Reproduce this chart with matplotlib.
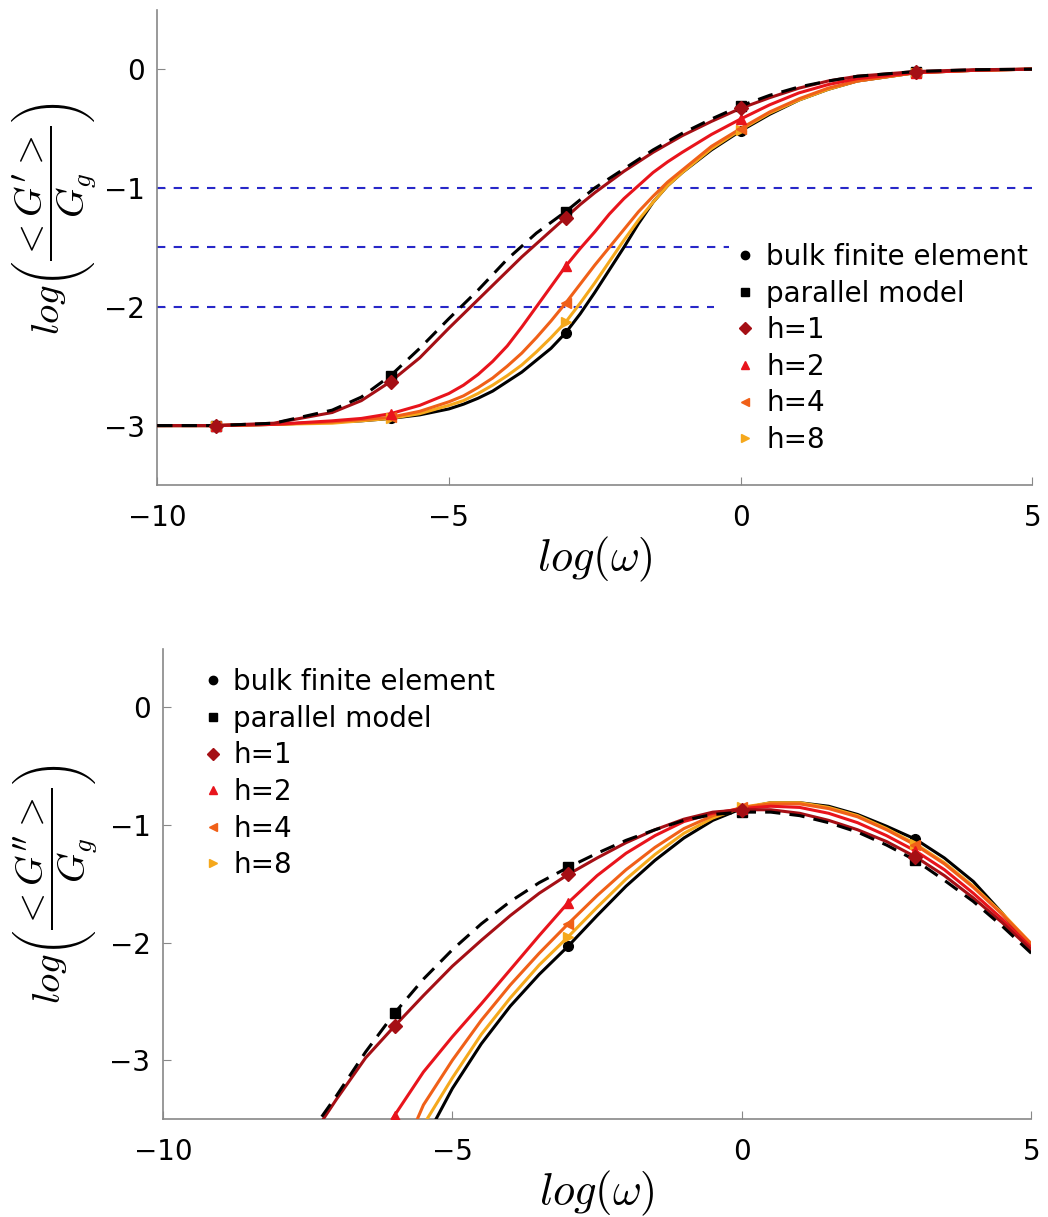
import matplotlib
matplotlib.use('Agg')
import matplotlib.pyplot as plt
from matplotlib.lines import Line2D
import numpy as np

plt.rcParams['mathtext.fontset'] = 'cm'
plt.rcParams['font.family'] = ['DejaVu Sans']

# --- storage modulus panel
x_top = [-10, -9, -8, -7, -6.5, -6, -5.5, -5, -4.75, -4.5, -4.25, -4, -3.75, -3.5, -3.25, -3,
         -2.75, -2.5, -2.25, -2, -1.75, -1.5, -1.25, -1, -0.5, 0, 0.5, 1, 1.5, 2, 3, 4, 5]
gp_bulk = [-3, -3, -2.99, -2.97, -2.96, -2.94, -2.91, -2.86, -2.82, -2.77, -2.71, -2.63, -2.55,
           -2.45, -2.35, -2.22, -2.06, -1.88, -1.69, -1.50, -1.30, -1.12, -0.98, -0.87, -0.68,
           -0.52, -0.38, -0.26, -0.17, -0.10, -0.03, -0.01, 0]
gp_par = [-3, -3, -2.98, -2.87, -2.76, -2.58, -2.35, -2.10, -1.98, -1.86, -1.73, -1.60, -1.49,
          -1.38, -1.29, -1.20, -1.10, -1.00, -0.92, -0.84, -0.76, -0.68, -0.61, -0.54, -0.42,
          -0.31, -0.22, -0.15, -0.10, -0.06, -0.02, -0.005, 0]
gp_h1 = [-3, -3, -2.98, -2.89, -2.79, -2.63, -2.43, -2.18, -2.06, -1.94, -1.82, -1.70, -1.58,
         -1.47, -1.36, -1.25, -1.14, -1.04, -0.95, -0.86, -0.78, -0.70, -0.63, -0.56, -0.44,
         -0.33, -0.24, -0.16, -0.10, -0.06, -0.02, -0.005, 0]
gp_h2 = [-3, -3, -2.99, -2.96, -2.94, -2.90, -2.83, -2.73, -2.66, -2.57, -2.46, -2.33, -2.17,
         -2.00, -1.83, -1.66, -1.51, -1.37, -1.22, -1.09, -0.98, -0.87, -0.78, -0.70, -0.55,
         -0.42, -0.30, -0.20, -0.13, -0.08, -0.03, -0.01, 0]
gp_h4 = [-3, -3, -2.99, -2.97, -2.95, -2.93, -2.88, -2.80, -2.75, -2.68, -2.60, -2.50, -2.39,
         -2.26, -2.12, -1.97, -1.81, -1.65, -1.50, -1.35, -1.20, -1.07, -0.95, -0.85, -0.65,
         -0.50, -0.36, -0.25, -0.16, -0.10, -0.03, -0.01, 0]
gp_h8 = [-3, -3, -2.99, -2.98, -2.96, -2.94, -2.90, -2.83, -2.79, -2.73, -2.66, -2.58, -2.49,
         -2.38, -2.26, -2.13, -1.97, -1.80, -1.62, -1.44, -1.27, -1.12, -0.98, -0.87, -0.67,
         -0.51, -0.37, -0.26, -0.17, -0.10, -0.03, -0.01, 0]

# --- loss modulus panel
x_bot = [-7.5, -7, -6.5, -6, -5.5, -5, -4.5, -4, -3.5, -3, -2.5, -2, -1.5, -1, -0.5,
         0, 0.5, 1, 1.5, 2, 2.5, 3, 3.5, 4, 4.5, 5]
gpp_bulk = [-6.0, -5.4, -4.8, -4.2, -3.7, -3.24, -2.86, -2.54, -2.27, -2.03, -1.77, -1.52, -1.30,
            -1.11, -0.96, -0.86, -0.81, -0.81, -0.84, -0.91, -1.01, -1.12, -1.28, -1.48, -1.75, -2.06]
gpp_par = [-3.65, -3.30, -2.93, -2.60, -2.31, -2.06, -1.84, -1.65, -1.49, -1.36, -1.24, -1.13, -1.04,
           -0.96, -0.91, -0.89, -0.89, -0.92, -0.98, -1.06, -1.17, -1.30, -1.47, -1.65, -1.86, -2.09]
gpp_h1 = [-3.70, -3.33, -2.98, -2.71, -2.45, -2.20, -1.98, -1.77, -1.58, -1.42, -1.28, -1.15, -1.04,
          -0.95, -0.89, -0.87, -0.87, -0.90, -0.96, -1.04, -1.14, -1.27, -1.43, -1.62, -1.83, -2.06]
gpp_h2 = [-4.6, -4.2, -3.85, -3.47, -3.10, -2.80, -2.52, -2.23, -1.94, -1.66, -1.43, -1.24, -1.09,
          -0.97, -0.90, -0.86, -0.84, -0.85, -0.90, -0.98, -1.09, -1.22, -1.38, -1.58, -1.80, -2.04]
gpp_h4 = [-5.4, -4.9, -4.4, -3.95, -3.38, -3.00, -2.66, -2.36, -2.09, -1.84, -1.60, -1.38, -1.19,
          -1.03, -0.92, -0.85, -0.82, -0.82, -0.86, -0.93, -1.04, -1.17, -1.33, -1.53, -1.76, -2.01]
gpp_h8 = [-5.7, -5.1, -4.6, -4.1, -3.55, -3.15, -2.78, -2.47, -2.19, -1.95, -1.70, -1.46, -1.25,
          -1.07, -0.94, -0.85, -0.81, -0.81, -0.85, -0.92, -1.03, -1.16, -1.32, -1.52, -1.75, -2.01]

marker_x = [-9, -6, -3, 0, 3]
hlines = [-1, -1.5, -2]
hline_end = [5, -0.2, -0.45]

labels = ['bulk finite element', 'parallel model', 'h=1', 'h=2', 'h=4', 'h=8']
colors = ['black', 'black', '#a50f15', '#e8141c', '#f06018', '#f5a81c']
markers = ['o', 's', 'D', '^', '<', '>']
styles = ['-', '--', '-', '-', '-', '-']

fig = plt.figure(figsize=(10.48, 12.17), dpi=100)
ax1 = fig.add_axes([0.150, 0.6015, 0.835, 0.3905])
ax2 = fig.add_axes([0.1555, 0.0805, 0.8285, 0.3865])


def draw(ax, xs, series):
    xs = np.array(xs)
    order = [1, 0, 5, 4, 3, 2]
    for i in order:
        ys = np.array(series[i])
        ax.plot(xs, ys, styles[i], color=colors[i], lw=2.2, zorder=3 + (i == 1),
                dashes=(5, 3) if i == 1 else (None, None))
        mask = np.isin(xs, marker_x)
        ax.plot(xs[mask], ys[mask], linestyle='none', marker=markers[i], color=colors[i],
                ms=7, zorder=5)


draw(ax1, x_top, [gp_bulk, gp_par, gp_h1, gp_h2, gp_h4, gp_h8])
draw(ax2, x_bot, [gpp_bulk, gpp_par, gpp_h1, gpp_h2, gpp_h4, gpp_h8])

for yv, xe in zip(hlines, hline_end):
    ax1.plot([-10, xe], [yv, yv], '--', color='#2828c8', lw=1.5, dashes=(4, 4), zorder=2)

handles = [Line2D([], [], linestyle='none', marker=m, color=c, ms=6)
           for m, c in zip(markers, colors)]

for ax, ylab, lc in [(ax1, r"$log\left(\dfrac{<G^{\prime}>}{G_g}\right)$", (-0.066, 0.56)),
                     (ax2, r"$log\left(\dfrac{<G^{\prime\prime}>}{G_g}\right)$", (-0.072, 0.50))]:
    ax.set_xlim(-10, 5)
    ax.set_ylim(-3.5, 0.5)
    ax.set_xticks([-10, -5, 0, 5])
    ax.set_yticks([-3, -2, -1, 0])
    ax.set_xticklabels(['\u221210', '\u22125', '0', '5'])
    ax.set_yticklabels(['\u22123', '\u22122', '\u22121', '0'])
    ax.tick_params(direction='in', length=6, color='#888888', labelsize=20)
    ax.tick_params(axis='x', pad=14)
    ax.tick_params(axis='y', pad=9)
    for s in ['top', 'right']:
        ax.spines[s].set_visible(False)
    for s in ['left', 'bottom']:
        ax.spines[s].set_color('#888888')
        ax.spines[s].set_linewidth(1.2)
    ax.set_xlabel(r'$log(\omega)$', fontsize=32, labelpad=2)
    ax.set_ylabel(ylab, fontsize=28)
    ax.yaxis.set_label_coords(*lc)

leg1 = ax1.legend(handles, labels, loc='upper left', bbox_to_anchor=(0.637, 0.556),
                  frameon=True, fontsize=20, handlelength=0.6, handletextpad=0.45,
                  labelspacing=0.31, borderpad=0.3)
leg1.get_frame().set_edgecolor('none')
leg1.get_frame().set_alpha(1)
leg1.set_zorder(10)

leg2 = ax2.legend(handles, labels, loc='upper left', bbox_to_anchor=(0.022, 1.006),
                  frameon=True, fontsize=20, handlelength=0.6, handletextpad=0.45,
                  labelspacing=0.31, borderpad=0.3)
leg2.get_frame().set_edgecolor('none')
leg2.get_frame().set_alpha(1)
leg2.set_zorder(10)

fig.savefig('out.png', dpi=100)
